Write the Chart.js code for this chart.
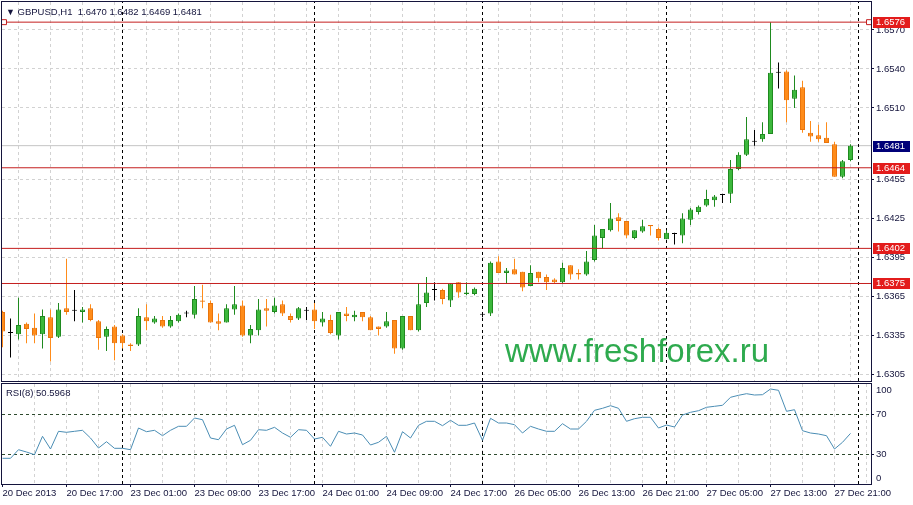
<!DOCTYPE html>
<html>
<head>
<meta charset="utf-8">
<script src="https://cdn.jsdelivr.net/npm/chart.js@4.4.1/dist/chart.umd.min.js"></script>
<style>
  body { margin: 0; background: #fff; width: 913px; height: 505px; overflow: hidden; position: relative; }
  #main { position: absolute; left: 0; top: 0; }
  #rsi { position: absolute; left: 0; top: 383px; }
  .txt { position: absolute; font-family: 'Liberation Sans', Arial, sans-serif; font-size: 9.5px; line-height: 10px; color: #14143c; white-space: pre; }
  #title { left: 6px; top: 7px; }
  #rsiTitle { left: 6px; top: 388px; }
  #wm { position: absolute; left: 505px; top: 334px; font-family: 'Liberation Sans', Arial, sans-serif; font-size: 33px; line-height: 33px; color: #2eaa4e; white-space: pre; }
</style>
</head>
<body>
<canvas id="main" width="913" height="384"></canvas>
<canvas id="rsi" width="913" height="122"></canvas>
<div id="title" class="txt"><span style="font-size:9px">&#9660;</span> GBPUSD,H1  1.6470 1.6482 1.6469 1.6481</div>
<div id="rsiTitle" class="txt">RSI(8) 50.5968</div>
<div id="wm">www.freshforex.ru</div>
<script>
Chart.defaults.font.family = "'Liberation Sans', Arial, sans-serif";
Chart.defaults.font.size = 9.5;
Chart.defaults.color = '#14143c';

// ---- data (GBPUSD H1, 20 Dec 2013 09:00 .. 27 Dec 2013 23:00)
const X_LABELS = ['20 Dec 2013', '20 Dec 17:00', '23 Dec 01:00', '23 Dec 09:00', '23 Dec 17:00',
    '24 Dec 01:00', '24 Dec 09:00', '24 Dec 17:00', '26 Dec 05:00', '26 Dec 13:00',
    '26 Dec 21:00', '27 Dec 05:00', '27 Dec 13:00', '27 Dec 21:00'];
const LABEL_STEP = 8;      // bars between time labels
const GRID_STEP = 4;       // bars between grid lines
const SEPARATORS = [15, 39, 60, 83, 107];   // first bar of each day
const PRICE_TICKS = [1.6305, 1.6335, 1.6365, 1.6395, 1.6425, 1.6455, 1.6510, 1.6540, 1.6570];
const LEVELS = [1.6576, 1.6464, 1.6402, 1.6375];
const BID = 1.6481;
const RSI_TICKS = [0, 30, 70, 100];
const RSI_LEVELS = [30, 70];

const OPEN = [1.6353,1.6337,1.6336,1.6344,1.6341,1.6336,1.6349,1.6334,1.6356,1.6354,
    1.6353,1.6356,1.6346,1.6334,1.6342,1.6335,1.6328,1.6328,1.6349,1.6345,
    1.6347,1.6342,1.6346,1.6352,1.6351,1.6362,1.6360,1.6346,1.6345,1.6355,
    1.6358,1.6335,1.6339,1.6356,1.6353,1.6359,1.6350,1.6348,1.6354,1.6355,
    1.6345,1.6347,1.6335,1.6352,1.6349,1.6353,1.6349,1.6342,1.6342,1.6347,
    1.6325,1.6350,1.6339,1.6360,1.6370,1.6370,1.6362,1.6376,1.6367,1.6367,
    1.6351,1.6352,1.6392,1.6383,1.6386,1.6384,1.6373,1.6384,1.6380,1.6378,
    1.6376,1.6389,1.6383,1.6382,1.6393,1.6410,1.6416,1.6426,1.6423,1.6410,
    1.6415,1.6420,1.6417,1.6409,1.6413,1.6412,1.6424,1.6430,1.6435,1.6439,
    1.6443,1.6444,1.6463,1.6474,1.6484,1.6486,1.6490,1.6537,1.6538,1.6517,
    1.6526,1.6491,1.6489,1.6487,1.6482,1.6457,1.6470];
const HIGH = [1.6354,1.6348,1.6364,1.6345,1.6352,1.6355,1.6355,1.6360,1.6394,1.6370,
    1.6357,1.6359,1.6347,1.6342,1.6343,1.6336,1.6329,1.6356,1.6359,1.6350,
    1.6350,1.6350,1.6352,1.6354,1.6373,1.6374,1.6362,1.6352,1.6359,1.6373,
    1.6362,1.6343,1.6363,1.6363,1.6364,1.6362,1.6352,1.6357,1.6357,1.6360,
    1.6353,1.6351,1.6353,1.6357,1.6354,1.6353,1.6350,1.6342,1.6353,1.6347,
    1.6350,1.6350,1.6375,1.6380,1.6376,1.6371,1.6375,1.6376,1.6376,1.6372,
    1.6353,1.6392,1.6396,1.6387,1.6394,1.6384,1.6389,1.6384,1.6382,1.6379,
    1.6391,1.6389,1.6386,1.6400,1.6420,1.6417,1.6437,1.6429,1.6423,1.6416,
    1.6424,1.6420,1.6418,1.6416,1.6414,1.6429,1.6433,1.6435,1.6447,1.6443,
    1.6444,1.6470,1.6476,1.6503,1.6493,1.6499,1.6576,1.6545,1.6539,1.6535,
    1.6531,1.6500,1.6497,1.6499,1.6484,1.6470,1.6482];
const LOW = [1.6326,1.6318,1.6332,1.6329,1.6329,1.6325,1.6315,1.6333,1.6351,1.6346,
    1.6345,1.6346,1.6324,1.6323,1.6316,1.6325,1.6323,1.6327,1.6339,1.6344,
    1.6341,1.6341,1.6345,1.6349,1.6348,1.6356,1.6345,1.6339,1.6345,1.6351,
    1.6334,1.6329,1.6335,1.6342,1.6352,1.6350,1.6345,1.6347,1.6347,1.6340,
    1.6342,1.6336,1.6332,1.6346,1.6346,1.6346,1.6339,1.6335,1.6341,1.6321,
    1.6324,1.6339,1.6338,1.6357,1.6362,1.6359,1.6357,1.6364,1.6366,1.6366,
    1.6349,1.6350,1.6383,1.6375,1.6382,1.6369,1.6373,1.6376,1.6370,1.6375,
    1.6375,1.6378,1.6378,1.6381,1.6392,1.6402,1.6415,1.6415,1.6410,1.6409,
    1.6414,1.6412,1.6408,1.6409,1.6405,1.6406,1.6420,1.6428,1.6434,1.6434,
    1.6437,1.6437,1.6462,1.6473,1.6481,1.6484,1.6490,1.6525,1.6499,1.6510,
    1.6491,1.6484,1.6484,1.6483,1.6457,1.6456,1.6469];
const CLOSE = [1.6338,1.6337,1.6343,1.6340,1.6335,1.6350,1.6333,1.6355,1.6353,1.6354,
    1.6355,1.6347,1.6333,1.6340,1.6329,1.6329,1.6327,1.6350,1.6346,1.6348,
    1.6342,1.6347,1.6351,1.6352,1.6363,1.6361,1.6345,1.6344,1.6356,1.6359,
    1.6335,1.6340,1.6355,1.6354,1.6358,1.6352,1.6347,1.6356,1.6354,1.6346,
    1.6348,1.6337,1.6353,1.6350,1.6351,1.6349,1.6339,1.6340,1.6346,1.6325,
    1.6350,1.6339,1.6359,1.6368,1.6370,1.6363,1.6375,1.6368,1.6368,1.6371,
    1.6351,1.6391,1.6383,1.6385,1.6382,1.6372,1.6383,1.6379,1.6376,1.6376,
    1.6387,1.6382,1.6382,1.6392,1.6412,1.6417,1.6425,1.6423,1.6412,1.6416,
    1.6419,1.6419,1.6410,1.6414,1.6413,1.6425,1.6432,1.6434,1.6440,1.6442,
    1.6443,1.6463,1.6474,1.6486,1.6484,1.6490,1.6537,1.6537,1.6516,1.6524,
    1.6493,1.6488,1.6486,1.6483,1.6457,1.6469,1.6481];
const RSI = [25.7,25.7,34.3,32.0,29.3,47.7,35.0,52.7,51.7,52.7,
    53.7,46.0,36.0,42.3,35.7,35.7,34.3,56.0,52.3,53.7,
    48.3,53.7,57.7,57.7,66.0,64.3,46.0,44.3,55.0,58.7,
    39.3,43.7,54.3,53.7,56.7,51.0,46.7,54.3,53.7,45.0,
    46.7,37.7,52.7,50.0,51.0,49.0,39.0,41.7,47.7,31.7,
    52.3,46.0,58.7,62.7,62.7,58.3,63.7,58.7,58.7,61.0,
    43.7,65.7,61.0,61.0,59.3,51.0,57.7,55.0,52.7,52.7,
    60.3,55.0,55.0,62.7,73.7,75.7,78.3,75.7,62.7,65.3,
    66.7,66.7,56.0,59.0,57.0,69.0,71.7,73.3,76.7,77.7,
    78.7,86.7,88.7,90.3,89.0,89.3,95.0,93.7,72.7,74.3,
    53.3,51.0,50.0,48.3,35.0,41.7,50.6];

// ---- view
const X_MIN = -0.0625, X_MAX = 108.5625;
const P_MIN = 1.6300, P_MAX = 1.65915;
const UP_FILL = '#3cb83c', UP_LINE = '#1f8a1f';
const DN_FILL = '#ff8c1a', DN_LINE = '#e8740c';
const FLAT = '#000000';
const GRID = '#d2d2d2';
const FRAME = '#14143c';

function candleColor(i, up, dn) {
    if (CLOSE[i] > OPEN[i]) return up;
    if (CLOSE[i] < OPEN[i]) return dn;
    return FLAT;
}
function gridTicks(from) {
    let t = [];
    for (let v = from; v < X_MAX; v += GRID_STEP) t.push({value: v});
    return t;
}
function separatorData(lo, hi) {
    let d = [];
    SEPARATORS.forEach(s => { d.push({x: s, y: lo}, {x: s, y: hi}, {x: s, y: null}); });
    return d;
}
// keep the plot area where it is: no extra room for half labels
function noPad(s) {
    s.paddingTop = 0; s.paddingBottom = 0; s.paddingLeft = 0; s.paddingRight = 0;
}

const framePlugin = {
    id: 'frame',
    afterDraw(chart) {
        const {ctx, chartArea: a} = chart;
        ctx.save();
        ctx.strokeStyle = FRAME;
        ctx.lineWidth = 1;
        ctx.strokeRect(a.left - 0.5, a.top - 0.5, a.right - a.left + 1, a.bottom - a.top + 1);
        ctx.restore();
    }
};

const priceBoxes = {
    id: 'priceBoxes',
    afterDraw(chart) {
        const {ctx, chartArea: a} = chart;
        const y = chart.scales.y;
        const box = (v, color) => {
            const py = Math.round(y.getPixelForValue(v));
            ctx.fillStyle = color;
            ctx.fillRect(a.right + 2, py - 5, 37, 11);
            ctx.fillStyle = '#ffffff';
            ctx.textBaseline = 'middle';
            ctx.textAlign = 'left';
            ctx.fillText(v.toFixed(4), a.right + 5, py + 0.5);
        };
        ctx.save();
        ctx.font = "9.5px 'Liberation Sans', Arial, sans-serif";
        LEVELS.forEach(v => box(v, '#e31c1c'));
        box(BID, '#000078');
        ctx.restore();
    }
};

const rsiLabels = {
    id: 'rsiLabels',
    afterDraw(chart) {
        const {ctx, chartArea: a} = chart;
        const y = chart.scales.y;
        ctx.save();
        ctx.font = "9.5px 'Liberation Sans', Arial, sans-serif";
        ctx.fillStyle = '#14143c';
        ctx.textBaseline = 'middle';
        RSI_TICKS.forEach(v => {
            let py = y.getPixelForValue(v);
            py = Math.min(Math.max(py, a.top + 6), a.bottom - 6);
            ctx.fillText(String(v), a.right + 5, py);
        });
        ctx.restore();
    }
};

const wicks = OPEN.map((o, i) => ({x: i, y: [LOW[i], HIGH[i]]}));
const bodies = OPEN.map((o, i) => ({x: i, y: [o, CLOSE[i]]}));

let mainSets = [
    {type: 'bar', data: bodies, grouped: false, maxBarThickness: 5, minBarLength: 1,
     borderWidth: 1, borderSkipped: false, order: 1,
     backgroundColor: c => candleColor(c.dataIndex, UP_FILL, DN_FILL),
     borderColor: c => candleColor(c.dataIndex, UP_LINE, DN_LINE)},
    {type: 'bar', data: wicks, grouped: false, maxBarThickness: 1, order: 2,
     backgroundColor: c => candleColor(c.dataIndex, UP_LINE, DN_FILL)},
    {type: 'line', data: [{x: X_MIN, y: BID}, {x: X_MAX, y: BID}], borderColor: '#c4c4c4',
     borderWidth: 1, pointRadius: 0, order: 5},
    {type: 'line', data: separatorData(P_MIN, P_MAX), borderColor: '#000', borderWidth: 1,
     borderDash: [3, 3], pointRadius: 0, spanGaps: false, order: 4}
];
LEVELS.forEach((v, k) => {
    mainSets.push({
        type: 'line', order: 0, borderColor: '#c41e1e', borderWidth: 1,
        data: [{x: X_MIN, y: v}, {x: 0.1875, y: v}, {x: 108.3125, y: v}, {x: X_MAX, y: v}],
        pointStyle: 'rect', pointBackgroundColor: '#ffffff', pointBorderColor: '#c41e1e',
        pointBorderWidth: 1,
        pointRadius: c => (k === 0 && (c.dataIndex === 1 || c.dataIndex === 2)) ? 3.5 : 0
    });
});

new Chart(document.getElementById('main'), {
    type: 'bar',
    data: {datasets: mainSets},
    plugins: [framePlugin, priceBoxes],
    options: {
        responsive: false,
        animation: false,
        events: [],
        layout: {padding: {left: 2, top: 2, right: 0, bottom: 3}},
        plugins: {legend: {display: false}, tooltip: {enabled: false}},
        scales: {
            x: {
                type: 'linear', min: X_MIN, max: X_MAX, offset: false,
                afterBuildTicks: s => { s.ticks = gridTicks(GRID_STEP); },
                afterFit: s => { s.height = 0; noPad(s); },
                ticks: {display: false},
                grid: {color: GRID, drawTicks: false},
                border: {display: false, dash: [3, 3]}
            },
            y: {
                type: 'linear', position: 'right', min: P_MIN, max: P_MAX, beginAtZero: false,
                afterBuildTicks: s => { s.ticks = PRICE_TICKS.map(v => ({value: v})); },
                afterFit: s => { s.width = 42; noPad(s); },
                ticks: {callback: v => v.toFixed(4), padding: 2, color: '#14143c'},
                grid: {color: GRID, tickColor: '#14143c', tickLength: 3},
                border: {display: false, dash: [3, 3]}
            }
        }
    }
});

new Chart(document.getElementById('rsi'), {
    type: 'line',
    data: {
        datasets: [
            {data: RSI.map((v, i) => ({x: i, y: v})), borderColor: '#4a8db4', borderWidth: 1,
             pointRadius: 0, tension: 0, order: 0},
            {data: separatorData(0, 100), borderColor: '#000', borderWidth: 1,
             borderDash: [3, 3], pointRadius: 0, spanGaps: false, order: 1}
        ]
    },
    plugins: [framePlugin, rsiLabels],
    options: {
        responsive: false,
        animation: false,
        events: [],
        layout: {padding: {left: 2, top: 1, right: 0, bottom: 0}},
        plugins: {legend: {display: false}, tooltip: {enabled: false}},
        scales: {
            x: {
                type: 'linear', min: X_MIN, max: X_MAX, offset: false,
                afterBuildTicks: s => { s.ticks = gridTicks(0); },
                afterFit: s => { s.height = 21; noPad(s); },
                ticks: {
                    autoSkip: false, maxRotation: 0, align: 'start', padding: 1, color: '#14143c',
                    callback: v => (v % LABEL_STEP === 0) ? X_LABELS[v / LABEL_STEP] : ''
                },
                grid: {
                    color: c => (c.tick && c.tick.value === 0) ? 'rgba(0,0,0,0)' : GRID,
                    tickColor: c => (c.tick && c.tick.value % LABEL_STEP === 0) ? '#14143c' : 'rgba(0,0,0,0)',
                    tickLength: 3
                },
                border: {display: false, dash: [3, 3]}
            },
            y: {
                type: 'linear', position: 'right', min: 0, max: 100,
                afterBuildTicks: s => { s.ticks = RSI_TICKS.map(v => ({value: v})); },
                afterFit: s => { s.width = 42; noPad(s); },
                ticks: {display: false},
                grid: {
                    color: c => (c.tick && RSI_LEVELS.includes(c.tick.value)) ? '#2e4a2e' : 'rgba(0,0,0,0)',
                    tickColor: c => (c.tick && RSI_LEVELS.includes(c.tick.value)) ? '#14143c' : 'rgba(0,0,0,0)',
                    tickLength: 3
                },
                border: {display: false, dash: [3, 3]}
            }
        }
    }
});
</script>
</body>
</html>
